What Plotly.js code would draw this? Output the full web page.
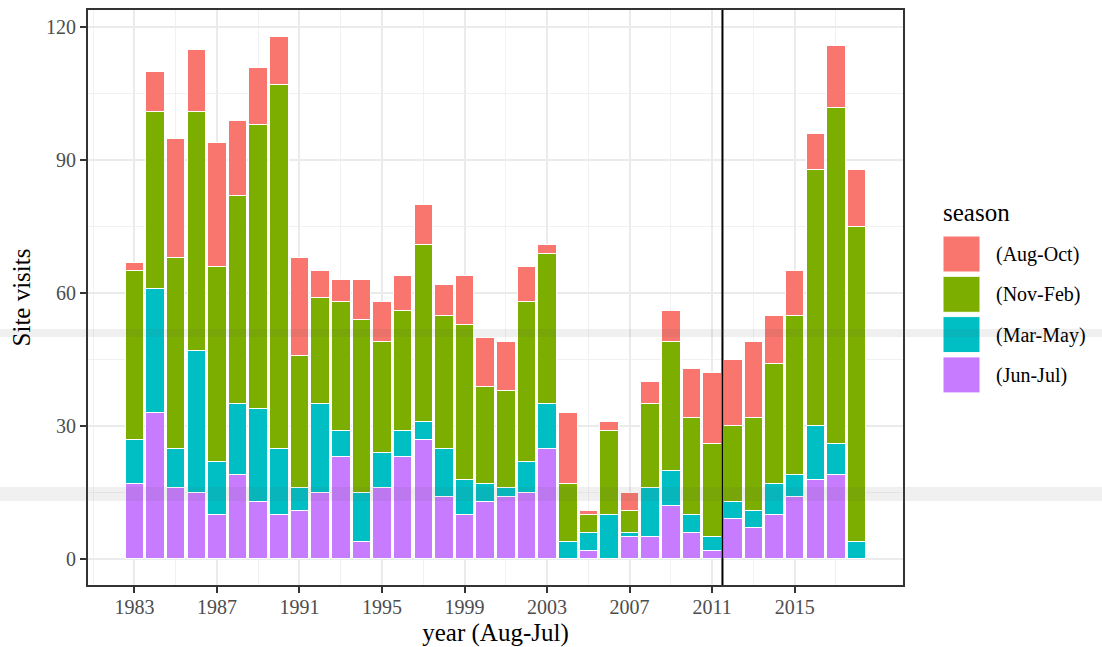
<!DOCTYPE html>
<html>
<head>
<meta charset="utf-8">
<script src="https://cdn.plot.ly/plotly-3.0.1.min.js"></script>
<style>
  html, body { margin: 0; padding: 0; background: #ffffff; }
  #chart { width: 1102px; height: 647px; }
</style>
</head>
<body>
<div id="chart"></div>
<script>
// Survey years (Aug–Jul seasons)
const years = [1983, 1984, 1985, 1986, 1987, 1988, 1989, 1990, 1991, 1992, 1993, 1994,
               1995, 1996, 1997, 1998, 1999, 2000, 2001, 2002, 2003, 2004, 2005, 2006,
               2007, 2008, 2009, 2010, 2011, 2012, 2013, 2014, 2015, 2016, 2017, 2018];

// Site visits per season within each year
const junJul = [17, 33, 16, 15, 10, 19, 13, 10, 11, 15, 23, 4, 16, 23, 27, 14, 10, 13,
                14, 15, 25, 0, 2, 0, 5, 5, 12, 6, 2, 9, 7, 10, 14, 18, 19, 0];
const marMay = [10, 28, 9, 32, 12, 16, 21, 15, 5, 20, 6, 11, 8, 6, 4, 11, 8, 4,
                2, 7, 10, 4, 4, 10, 1, 11, 8, 4, 3, 4, 4, 7, 5, 12, 7, 4];
const novFeb = [38, 40, 43, 54, 44, 47, 64, 82, 30, 24, 29, 39, 25, 27, 40, 30, 35, 22,
                22, 36, 34, 13, 4, 19, 5, 19, 29, 22, 21, 17, 21, 27, 36, 58, 76, 71];
const augOct = [2, 9, 27, 14, 28, 17, 13, 11, 22, 6, 5, 9, 9, 8, 9, 7, 11, 11,
                11, 8, 2, 16, 1, 2, 4, 5, 7, 11, 16, 15, 17, 11, 10, 8, 14, 13];

// Legend order (top to bottom) and series colours
const seasonNames  = ["(Aug-Oct)", "(Nov-Feb)", "(Mar-May)", "(Jun-Jul)"];
const seasonValues = [augOct, novFeb, marMay, junJul];
const seasonColors = ["#F8766D", "#7CAE00", "#00BFC4", "#C77CFF"];

// Tick labels on both axes
const yearTicks = [1983, 1987, 1991, 1995, 1999, 2003, 2007, 2011, 2015];
const visitTicks = [0, 30, 60, 90, 120];

// Break between the two survey periods
const periodBreak = 2011.5;

const FONT = "Liberation Serif, Times New Roman, serif";

// Stack from the bottom: Jun-Jul first, Aug-Oct on top
const traces = [];
for (let i = seasonNames.length - 1; i >= 0; i--) {
  traces.push({
    type: "bar",
    name: seasonNames[i],
    x: years,
    y: seasonValues[i],
    width: 0.9,
    marker: { color: seasonColors[i], line: { color: "#ffffff", width: 1 } },
    showlegend: false,
    hoverinfo: "x+y+name"
  });
}

// Plot-area geometry in pixels (used to place the hand-built legend)
const W = 1102, H = 647;
const M = { l: 88, r: 199, t: 10, b: 62 };
const pw = W - M.l - M.r, ph = H - M.t - M.b;
const px = v => (v - M.l) / pw;
const py = v => (H - M.b - v) / ph;

const shapes = [
  {
    type: "line", xref: "x", yref: "paper",
    x0: periodBreak, x1: periodBreak, y0: 0, y1: 1,
    line: { color: "#000000", width: 2 }, layer: "above"
  }
];
const annotations = [
  {
    xref: "paper", yref: "paper", x: px(941), y: py(212),
    xanchor: "left", yanchor: "middle", showarrow: false,
    text: "season", font: { family: FONT, size: 25, color: "#000000" }
  }
];

// Legend keys and labels
const keyTop = 236, keyStep = 40.3, keySize = 37;
seasonNames.forEach((name, i) => {
  const top = keyTop + i * keyStep;
  shapes.push({
    type: "rect", xref: "paper", yref: "paper",
    x0: px(943), x1: px(943 + keySize), y0: py(top + keySize - 1), y1: py(top),
    fillcolor: seasonColors[i], line: { color: "#ffffff", width: 1 }
  });
  annotations.push({
    xref: "paper", yref: "paper", x: px(994), y: py(top + keySize / 2),
    xanchor: "left", yanchor: "middle", showarrow: false,
    text: name, font: { family: FONT, size: 20, color: "#000000" }
  });
});

// Faint horizontal bands across the figure
const bands = [[329, 337], [487, 501]];
bands.forEach(([a, b]) => {
  shapes.push({
    type: "rect", xref: "paper", yref: "paper",
    x0: px(0), x1: px(W), y0: py(b), y1: py(a),
    fillcolor: "rgba(90,90,90,0.09)", line: { width: 0 }, layer: "above"
  });
});

const layout = {
  width: W, height: H,
  margin: M,
  paper_bgcolor: "#ffffff",
  plot_bgcolor: "#ffffff",
  barmode: "stack",
  bargap: 0,
  showlegend: false,
  font: { family: FONT, color: "#000000" },
  xaxis: {
    range: [1980.75, 2020.25],
    tickmode: "array",
    tickvals: yearTicks,
    ticktext: yearTicks.map(String),
    ticks: "outside", ticklen: 6, tickwidth: 2, tickcolor: "#333333",
    ticklabelstandoff: -3,
    tickfont: { family: FONT, size: 20, color: "#4D4D4D" },
    showgrid: true, gridcolor: "#EBEBEB", gridwidth: 2,
    minor: { tick0: 1985, dtick: 4, showgrid: true, gridcolor: "#F1F1F1", gridwidth: 1, ticks: "" },
    zeroline: false,
    showline: true, linecolor: "#333333", linewidth: 2, mirror: true,
    title: { text: "year (Aug-Jul)", font: { family: FONT, size: 25, color: "#000000" }, standoff: 8 }
  },
  yaxis: {
    range: [-5.9, 123.9],
    tickmode: "array",
    tickvals: visitTicks,
    ticktext: visitTicks.map(String),
    ticks: "outside", ticklen: 6, tickwidth: 2, tickcolor: "#333333",
    tickfont: { family: FONT, size: 20, color: "#4D4D4D" },
    showgrid: true, gridcolor: "#EBEBEB", gridwidth: 2,
    minor: { tick0: 15, dtick: 30, showgrid: true, gridcolor: "#F1F1F1", gridwidth: 1, ticks: "" },
    zeroline: false,
    showline: true, linecolor: "#333333", linewidth: 2, mirror: true,
    title: { text: "Site visits", font: { family: FONT, size: 25, color: "#000000" }, standoff: 8 }
  },
  shapes: shapes,
  annotations: annotations
};

Plotly.newPlot("chart", traces, layout, { staticPlot: true, displayModeBar: false });
</script>
</body>
</html>
